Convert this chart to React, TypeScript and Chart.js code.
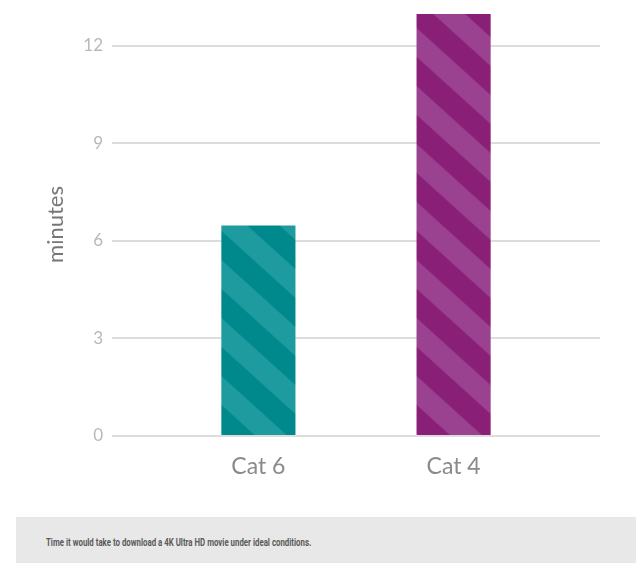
import React, { useEffect, useRef } from "react";
import { Chart, registerables } from "chart.js";

Chart.register(...registerables);

const categories = ["Cat 6", "Cat 4"];
const minutes = [6.5, 13];
const yTicks = [0, 3, 6, 9, 12];
const darkColors = ["#00898d", "#8a1f78"];
const lightColors = ["#1e9b9f", "#9a4290"];
const yTitle = "minutes";
const caption = "Time it would take to download a 4K Ultra HD movie under ideal conditions.";

const STRIPE_W = 64;
const STRIPE_H = 58;

function makeStripes(dark: string, light: string): CanvasPattern | string {
  const Px = STRIPE_W;
  const Py = STRIPE_H;
  const c = document.createElement("canvas");
  c.width = Px;
  c.height = Py;
  const ctx = c.getContext("2d");
  if (!ctx) return dark;
  ctx.fillStyle = dark;
  ctx.fillRect(0, 0, Px, Py);
  ctx.fillStyle = light;
  for (let k = -2; k <= 1; k++) {
    ctx.beginPath();
    ctx.moveTo(k * Px, 0);
    ctx.lineTo(k * Px + Px / 2, 0);
    ctx.lineTo(k * Px + Px / 2 + Px, Py);
    ctx.lineTo(k * Px + Px, Py);
    ctx.closePath();
    ctx.fill();
  }
  const pat = ctx.createPattern(c, "repeat");
  return pat || dark;
}

const anchorPatterns = {
  id: "anchorPatterns",
  beforeDatasetsDraw(chart: any) {
    const meta = chart.getDatasetMeta(0);
    const ds = chart.data.datasets[0];
    const bgs = ds.backgroundColor as any[];
    meta.data.forEach((bar: any, i: number) => {
      const p = bgs[i];
      if (p && typeof p.setTransform === "function" && typeof DOMMatrix !== "undefined") {
        const left = bar.x - bar.width / 2;
        p.setTransform(new DOMMatrix().translate(left - STRIPE_W / 2, bar.base - 2));
      }
    });
  },
};

export default function App() {
  const ref = useRef<HTMLCanvasElement | null>(null);
  const capRef = useRef<HTMLSpanElement | null>(null);

  useEffect(() => {
    if (capRef.current) {
      const w = capRef.current.offsetWidth;
      if (w > 0) capRef.current.style.transform = `scaleX(${265 / w})`;
    }
    if (!ref.current) return;
    const bg = categories.map((_, i) => makeStripes(darkColors[i], lightColors[i]));
    const chart = new Chart(ref.current, {
      type: "bar",
      data: {
        datasets: [
          {
            data: categories.map((_, i) => ({ x: i, y: minutes[i] })),
            backgroundColor: bg as any,
            borderColor: "rgba(255,255,255,0.3)",
            borderWidth: 1,
            barPercentage: 0.39,
            categoryPercentage: 1,
          },
        ],
      },
      plugins: [anchorPatterns],
      options: {
        animation: false,
        responsive: false,
        maintainAspectRatio: false,
        layout: { padding: { top: 13, right: 40, left: 0, bottom: 0 } },
        plugins: { legend: { display: false }, tooltip: { enabled: false } },
        scales: {
          x: {
            type: "linear",
            min: -0.75,
            max: 1.75,
            offset: false,
            grid: { display: false },
            border: { display: false },
            afterBuildTicks: (scale: any) => {
              scale.ticks = categories.map((_, i) => ({ value: i }));
            },
            afterFit: (scale: any) => {
              scale.height = 64;
              scale.paddingLeft = 0;
              scale.paddingRight = 0;
            },
            ticks: {
              autoSkip: false,
              maxRotation: 0,
              padding: 9,
              color: "#8a8a8a",
              font: { family: "Lato", size: 23 },
              callback: (v: any) => categories[Number(v)] ?? "",
            },
          },
          y: {
            min: 0,
            max: 13,
            afterBuildTicks: (scale: any) => {
              scale.ticks = yTicks.map((v) => ({ value: v }));
            },
            afterFit: (scale: any) => {
              scale.width = 112;
              scale.paddingTop = 0;
              scale.paddingBottom = 0;
            },
            grid: { color: "#dcdcdc", lineWidth: 2, drawTicks: false },
            border: { display: false },
            ticks: {
              padding: 9,
              color: "#b8b8b8",
              font: { family: "Lato", size: 17 },
            },
            title: {
              display: true,
              text: yTitle,
              color: "#777777",
              font: { family: "Lato", size: 22 },
              padding: { top: 43, bottom: 0 },
            },
          },
        },
      },
    });
    return () => chart.destroy();
  }, []);

  return (
    <div style={{ position: "fixed", left: 0, top: 0, width: 640, height: 563, background: "#fff", overflow: "hidden" }}>
      <canvas ref={ref} width={640} height={500} style={{ display: "block", width: 640, height: 500 }} />
      <div
        style={{
          position: "absolute",
          left: 16,
          top: 517,
          width: 620,
          height: 50,
          background: "#e8e8e8",
          boxSizing: "border-box",
          paddingLeft: 30,
          paddingTop: 20,
          fontFamily: "'Roboto', 'DejaVu Sans', sans-serif",
          fontWeight: "bold",
          fontSize: 10,
          color: "#5a5a5a",
          lineHeight: "11px",
          whiteSpace: "nowrap",
        }}
      >
        <span ref={capRef} style={{ display: "inline-block", transformOrigin: "0 0" }}>
          {caption}
        </span>
      </div>
    </div>
  );
}
